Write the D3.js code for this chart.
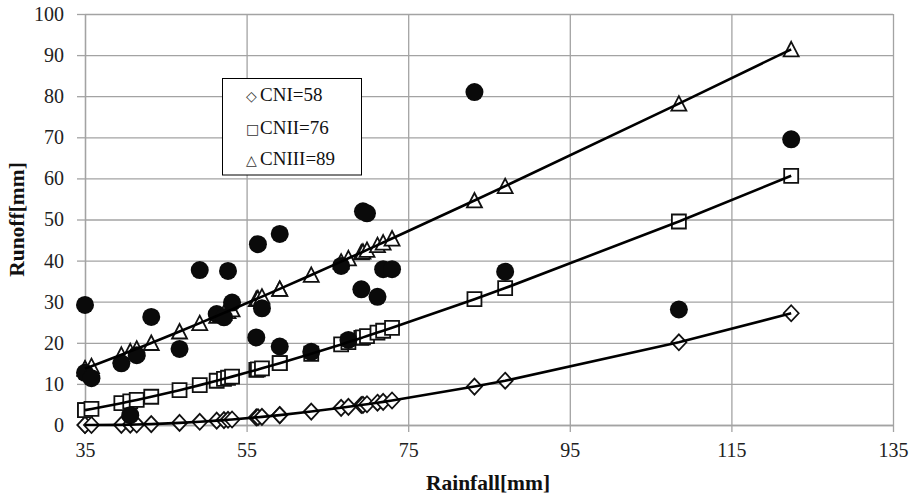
<!DOCTYPE html>
<html>
<head>
<meta charset="utf-8">
<script src="https://cdn.jsdelivr.net/npm/d3@7"></script>
<style>
  html, body { margin: 0; padding: 0; background: #ffffff; }
  svg { display: block; }
</style>
</head>
<body>
<svg id="chart" width="915" height="496"></svg>
<script>
// ---- data ----
const rainfall = [35.0, 35.0, 35.8, 39.5, 40.6, 41.4, 43.2, 46.7, 49.2, 51.3, 52.2, 52.7, 53.2, 56.2, 56.4, 56.9, 59.1, 59.1, 63.0, 66.7, 67.6, 69.2, 69.4, 69.9, 71.2, 71.9, 73.0, 83.2, 87.0, 108.5, 122.4];
const observed = [29.2, 12.7, 11.4, 15.0, 2.4, 17.0, 26.3, 18.5, 37.7, 27.0, 26.2, 37.5, 29.8, 21.3, 44.0, 28.4, 46.5, 19.1, 17.8, 38.7, 20.7, 33.0, 52.0, 51.5, 31.2, 37.9, 37.9, 81.0, 37.3, 28.1, 69.5];
const cn58 = [0, 0, 0, 0.04, 0.08, 0.11, 0.22, 0.51, 0.78, 1.06, 1.19, 1.27, 1.34, 1.85, 1.89, 1.98, 2.41, 2.41, 3.27, 4.18, 4.42, 4.86, 4.91, 5.05, 5.42, 5.63, 5.96, 9.35, 10.77, 20.12, 27.19];
const cn76 = [3.62, 3.62, 3.91, 5.31, 5.76, 6.09, 6.87, 8.48, 9.70, 10.77, 11.24, 11.50, 11.77, 13.40, 13.51, 13.79, 15.04, 15.04, 17.34, 19.61, 20.17, 21.19, 21.32, 21.64, 22.48, 22.93, 23.65, 30.61, 33.31, 49.51, 60.63];
const cn89 = [13.72, 13.72, 14.31, 17.08, 17.93, 18.55, 19.95, 22.75, 24.79, 26.53, 27.27, 27.69, 28.11, 30.65, 30.82, 31.24, 33.13, 33.13, 36.51, 39.76, 40.56, 41.98, 42.16, 42.60, 43.76, 44.39, 45.37, 54.63, 58.12, 78.20, 91.41];
const xTicks = [35, 55, 75, 95, 115, 135];
const yTicks = [0, 10, 20, 30, 40, 50, 60, 70, 80, 90, 100];
const legendLabels = ["CNI=58", "CNII=76", "CNIII=89"];
const legendSymbols = ["\u25C7", "\u25A1", "\u25B3"];

// ---- layout ----
const svg = d3.select("#chart");
const L = 85, R = 893, T = 14, B = 425;
const x = d3.scaleLinear().domain([35, 135]).range([L, R]);
const y = d3.scaleLinear().domain([0, 100]).range([B, T]);
const gridColor = "#a3a3a3";
const serif = "'Liberation Serif', 'Times New Roman', serif";

// gridlines
const gx = svg.append("g").attr("transform", `translate(0,${B})`)
  .call(d3.axisBottom(x).tickValues(xTicks).tickSize(-(B - T)).tickFormat(""));
const gy = svg.append("g").attr("transform", `translate(${L},0)`)
  .call(d3.axisLeft(y).tickValues(yTicks).tickSize(-(R - L)).tickFormat(""));
[gx, gy].forEach(g => {
  g.select(".domain").remove();
  g.selectAll("line").attr("stroke", gridColor).attr("stroke-width", 1.3);
});

// axes with tick marks and labels
const ax = svg.append("g").attr("transform", `translate(0,${B})`)
  .call(d3.axisBottom(x).tickValues(xTicks).tickSize(7).tickPadding(11).tickSizeOuter(0));
const ay = svg.append("g").attr("transform", `translate(${L},0)`)
  .call(d3.axisLeft(y).tickValues(yTicks).tickSize(8).tickPadding(13).tickSizeOuter(0));
[ax, ay].forEach(g => {
  g.select(".domain").attr("stroke", gridColor).attr("stroke-width", 1.3);
  g.selectAll("line").attr("stroke", gridColor).attr("stroke-width", 1.3);
  g.selectAll("text").attr("font-family", serif).attr("font-size", 20).attr("fill", "#222");
});

// ---- marks ----
const data = rainfall.map((p, i) => ({ p, obs: observed[i], a: cn58[i], b: cn76[i], c: cn89[i] }))
  .sort((m, n) => m.p - n.p);

const diamondPath = (cx, cy) => `M${cx},${cy - 8}L${cx + 7.5},${cy}L${cx},${cy + 8}L${cx - 7.5},${cy}Z`;
const squarePath = (cx, cy) => `M${cx - 7},${cy - 7}h14v14h-14Z`;
const trianglePath = (cx, cy) => `M${cx},${cy - 7.5}L${cx + 7.5},${cy + 7}L${cx - 7.5},${cy + 7}Z`;

const markerGroup = svg.append("g");
const series = [
  { key: "a", shape: diamondPath },
  { key: "b", shape: squarePath },
  { key: "c", shape: trianglePath }
];
series.forEach(s => {
  markerGroup.append("g").selectAll("path").data(data).join("path")
    .attr("d", d => s.shape(x(d.p), y(d[s.key])))
    .attr("fill", "#ffffff")
    .attr("stroke", "#111")
    .attr("stroke-width", 1.8)
    .attr("stroke-linejoin", "miter");
});

// observed circles
svg.append("g").selectAll("circle").data(data).join("circle")
  .attr("cx", d => x(d.p))
  .attr("cy", d => y(d.obs))
  .attr("r", 9)
  .attr("fill", "#0a0a0a");

// model lines
series.forEach(s => {
  const line = d3.line().x(d => x(d.p)).y(d => y(d[s.key]));
  svg.append("path").datum(data)
    .attr("d", line)
    .attr("fill", "none")
    .attr("stroke", "#000")
    .attr("stroke-width", 2.6)
    .attr("stroke-linejoin", "round");
});

// ---- axis titles ----
svg.append("text")
  .attr("x", (L + R) / 2 - 1).attr("y", 490)
  .attr("text-anchor", "middle")
  .attr("font-family", serif).attr("font-weight", "bold").attr("font-size", 21.5)
  .attr("fill", "#111")
  .text("Rainfall[mm]");
svg.append("text")
  .attr("transform", `translate(23.5,${(T + B) / 2}) rotate(-90)`)
  .attr("text-anchor", "middle")
  .attr("font-family", serif).attr("font-weight", "bold").attr("font-size", 21.5)
  .attr("fill", "#111")
  .text("Runoff[mm]");

// ---- legend ----
const lg = svg.append("g");
lg.append("rect")
  .attr("x", 222.5).attr("y", 78.5).attr("width", 139).attr("height", 96.5)
  .attr("fill", "#fff").attr("stroke", "#000").attr("stroke-width", 1);
const rowY = [101, 133.5, 165];
legendLabels.forEach((lab, i) => {
  lg.append("text")
    .attr("x", 246).attr("y", rowY[i])
    .attr("font-family", "'DejaVu Sans', sans-serif").attr("font-size", 14)
    .attr("fill", "#333")
    .text(legendSymbols[i]);
  lg.append("text")
    .attr("x", 260).attr("y", rowY[i])
    .attr("font-family", serif).attr("font-size", 19)
    .attr("fill", "#111")
    .text(lab);
});
</script>
</body>
</html>
